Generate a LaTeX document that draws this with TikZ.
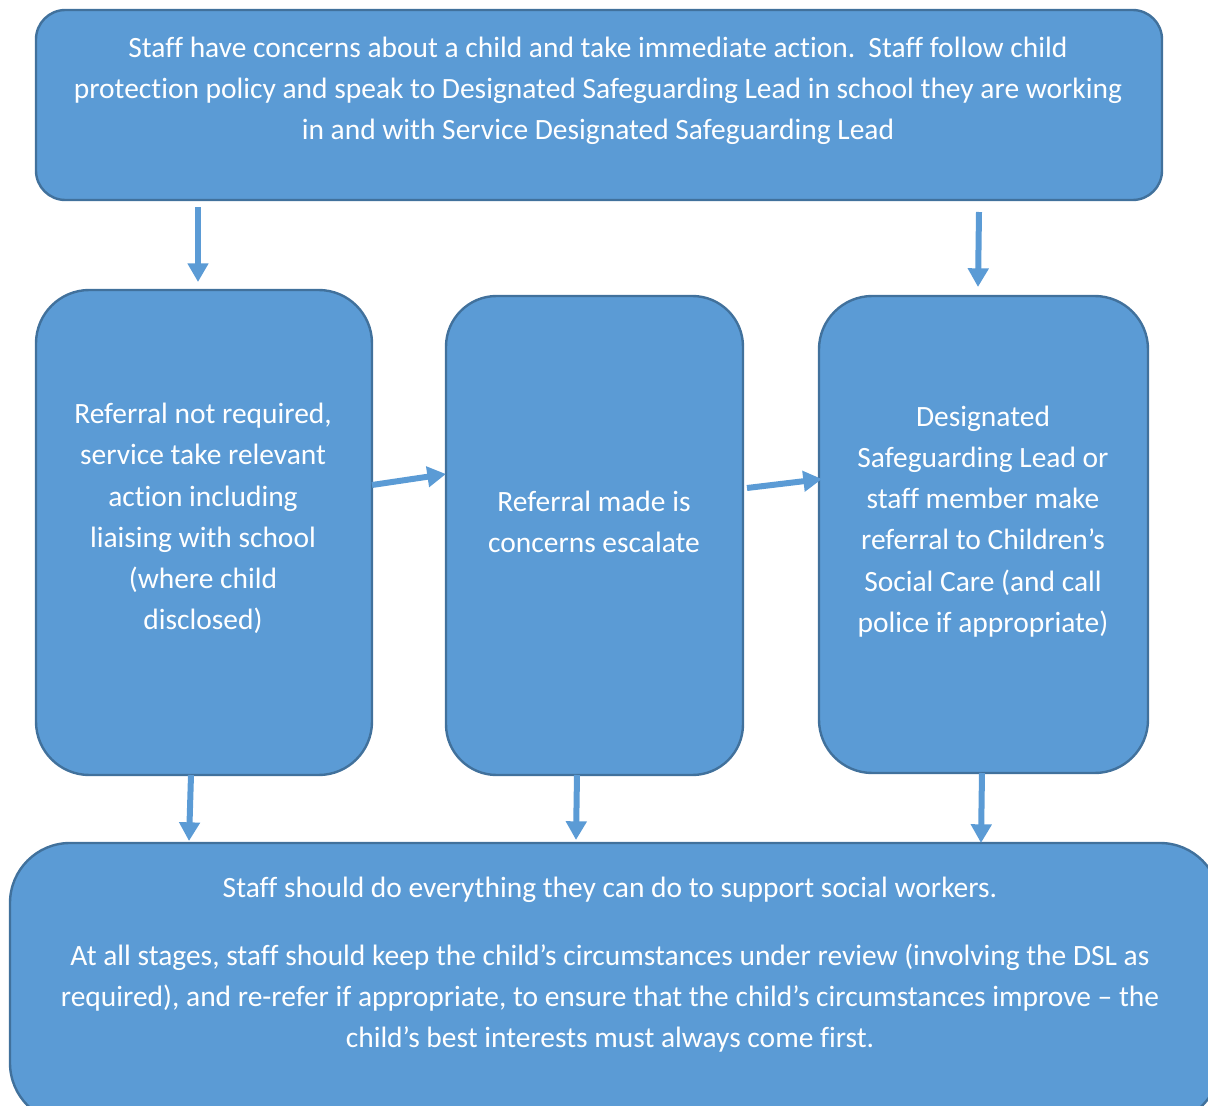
\documentclass[tikz,border=0pt]{standalone}
\usepackage{fontspec}
\setmainfont{Carlito}[Ligatures={NoCommon}]
\usetikzlibrary{arrows.meta}
\definecolor{boxfill}{HTML}{5B9BD5}
\definecolor{boxline}{HTML}{41719C}
\tikzset{
  box/.style={draw=boxline, line width=1.8pt, fill=boxfill, rectangle, inner sep=0pt},
  txt/.style={text=white, align=center, font=\fontsize{22.1}{30.9}\selectfont, inner sep=0pt},
  arr/.style={draw=boxfill, line width=4.5pt, -{Triangle[width=15pt,length=14pt]}}
}
\begin{document}
\begin{tikzpicture}[x=0.75pt,y=-0.75pt]
\useasboundingbox (0,0) rectangle (1208,1106);
\clip (0,0) rectangle (1208,1106);
% boxes
\node[box, rounded corners=22pt, minimum width=1126*0.75pt, minimum height=190*0.75pt] (top) at (599,105) {};
\node[box, rounded corners=40pt, minimum width=336*0.75pt, minimum height=485*0.75pt] (left) at (204,532.5) {};
\node[box, rounded corners=38pt, minimum width=297*0.75pt, minimum height=479*0.75pt] (mid) at (594.5,535.5) {};
\node[box, rounded corners=40pt, minimum width=329*0.75pt, minimum height=477*0.75pt] (right) at (983.5,534.5) {};
\node[box, rounded corners=45pt, minimum width=1210*0.75pt, minimum height=280*0.75pt] (bot) at (615,983) {};
% texts
\node[txt] (ttop) at (598,91) {Staff have concerns about a child and take immediate action.\ \ Staff follow child\\protection policy and speak to Designated Safeguarding Lead in school they are working\\in and with Service Designated Safeguarding Lead};
\node[txt] (tleft) at (203,518.5) {Referral not required,\\service take relevant\\action including\\liaising with school\\(where child\\disclosed)};
\node[txt] (tmid) at (594,522) {Referral made is\\concerns escalate};
\node[txt] (tright) at (983,521.5) {Designated\\Safeguarding Lead or\\staff member make\\referral to Children’s\\Social Care (and call\\police if appropriate)};
\node[txt] (tbot1) at (610,889.5) {Staff should do everything they can do to support social workers.};
\node[txt] (tbot2) at (610,998) {At all stages, staff should keep the child’s circumstances under review (involving the DSL as\\required), and re-refer if appropriate, to ensure that the child’s circumstances improve – the\\child’s best interests must always come first.};
% arrow end points
\coordinate (a1s) at (198,207); \coordinate (a1e) at (198,282);
\coordinate (a2s) at (979,212); \coordinate (a2e) at (978,287);
\coordinate (a3s) at (372,485); \coordinate (a3e) at (446,474);
\coordinate (a4s) at (747,488); \coordinate (a4e) at (822,479);
\coordinate (a5s) at (191,775); \coordinate (a5e) at (189,841);
\coordinate (a6s) at (577,775); \coordinate (a6e) at (576,840);
\coordinate (a7s) at (982,773); \coordinate (a7e) at (981,843);
\draw[arr] (a1s) -- (a1e);
\draw[arr] (a2s) -- (a2e);
\draw[arr] (a3s) -- (a3e);
\draw[arr] (a4s) -- (a4e);
\draw[arr] (a5s) -- (a5e);
\draw[arr] (a6s) -- (a6e);
\draw[arr] (a7s) -- (a7e);
\end{tikzpicture}
\end{document}
